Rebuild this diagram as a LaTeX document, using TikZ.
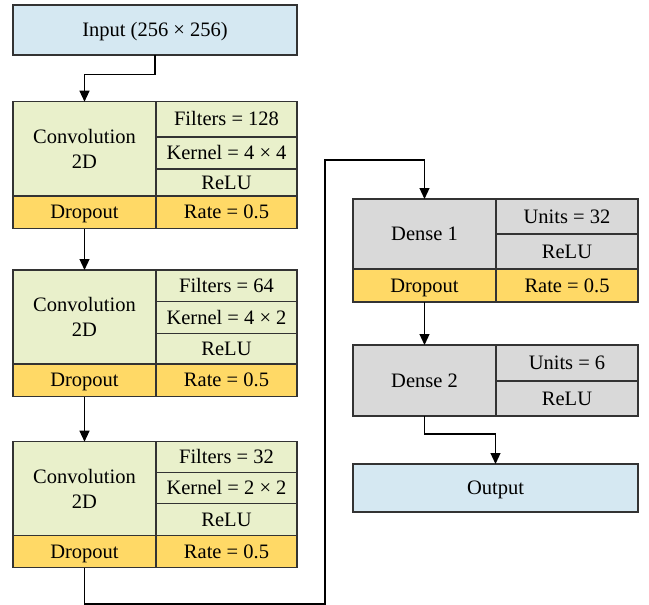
\documentclass[tikz,border=0pt]{standalone}
\usepackage{fontspec}
\setmainfont{Liberation Serif}
\usetikzlibrary{arrows.meta}

\definecolor{ioblue}{HTML}{D5E8F2}
\definecolor{convgreen}{HTML}{E9F0CB}
\definecolor{dropyellow}{HTML}{FFD966}
\definecolor{densegray}{HTML}{D9D9D9}
\definecolor{edge}{HTML}{333333}

\tikzset{
  cell/.style={draw=edge, line width=1.2pt, inner sep=0pt, outer sep=0pt,
    align=center, font=\fontsize{20.5}{25}\selectfont},
  oneline/.style={text height=15pt, text depth=2pt},
  conn/.style={draw=black, line width=1.2pt,
    -{Triangle[width=10pt,length=11pt]}},
  wire/.style={draw=black, line width=1.2pt}
}

% \blk[extra style]{name}{x1}{y1}{x2}{y2}{fill}{text}
\newcommand\blk[8][oneline]{%
  \node[cell,#1,fill=#7,
        minimum width={(#5-#3)*1pt}, minimum height={(#6-#4)*1pt}]
        (#2) at ({(#3+#5)/2},{(#4+#6)/2}) {#8};}

\begin{document}
\begin{tikzpicture}[x=1pt,y=-1pt]
\useasboundingbox (0,0) rectangle (649,605);

% input
\blk{in}{13}{5}{297}{55}{ioblue}{Input (256 × 256)}

% convolution block 1
\blk[]{c1}{13}{101.7}{156}{196}{convgreen}{Convolution\\2D}
\blk{c1f}{156}{101.7}{297}{137}{convgreen}{Filters = 128}
\blk{c1k}{156}{137}{297}{169}{convgreen}{Kernel = 4 × 4}
\blk{c1r}{156}{169}{297}{196}{convgreen}{ReLU}
\blk{d1}{13}{196}{156}{228.7}{dropyellow}{Dropout}
\blk{d1r}{156}{196}{297}{228.7}{dropyellow}{Rate = 0.5}

% convolution block 2
\blk[]{c2}{13}{270}{156}{364}{convgreen}{Convolution\\2D}
\blk{c2f}{156}{270}{297}{301.7}{convgreen}{Filters = 64}
\blk{c2k}{156}{301.7}{297}{333.3}{convgreen}{Kernel = 4 × 2}
\blk{c2r}{156}{333.3}{297}{364}{convgreen}{ReLU}
\blk{d2}{13}{364}{156}{396.7}{dropyellow}{Dropout}
\blk{d2r}{156}{364}{297}{396.7}{dropyellow}{Rate = 0.5}

% convolution block 3
\blk[]{c3}{13}{441.7}{156}{535.7}{convgreen}{Convolution\\2D}
\blk{c3f}{156}{441.7}{297}{472.3}{convgreen}{Filters = 32}
\blk{c3k}{156}{472.3}{297}{503.3}{convgreen}{Kernel = 2 × 2}
\blk{c3r}{156}{503.3}{297}{535.7}{convgreen}{ReLU}
\blk{d3}{13}{535.7}{156}{567.7}{dropyellow}{Dropout}
\blk{d3r}{156}{535.7}{297}{567.7}{dropyellow}{Rate = 0.5}

% dense block 1
\blk{e1}{353}{199}{496}{269}{densegray}{Dense 1}
\blk{e1u}{496}{199}{638}{234}{densegray}{Units = 32}
\blk{e1r}{496}{234}{638}{269}{densegray}{ReLU}
\blk{de}{353}{269}{496}{302}{dropyellow}{Dropout}
\blk{der}{496}{269}{638}{302}{dropyellow}{Rate = 0.5}

% dense block 2
\blk{e2}{353}{345}{496}{416}{densegray}{Dense 2}
\blk{e2u}{496}{345}{638}{381}{densegray}{Units = 6}
\blk{e2r}{496}{381}{638}{416}{densegray}{ReLU}

% output
\blk{out}{353}{464}{638}{512}{ioblue}{Output}

% connectors
\coordinate (lowturn) at (325,604);
\coordinate (topturn) at (325,160);

\draw[conn] (in.south) -- ++(0,19.5) -| (c1.north);
\draw[conn] (d1.south) -- (c2.north);
\draw[conn] (d2.south) -- (c3.north);
\draw[conn] (d3.south) |- (lowturn) -- (topturn) -| (e1.north);
\draw[conn] (de.south) -- (e2.north);
\draw[conn] (e2.south) -- ++(0,18) -| (out.north);
\end{tikzpicture}
\end{document}
